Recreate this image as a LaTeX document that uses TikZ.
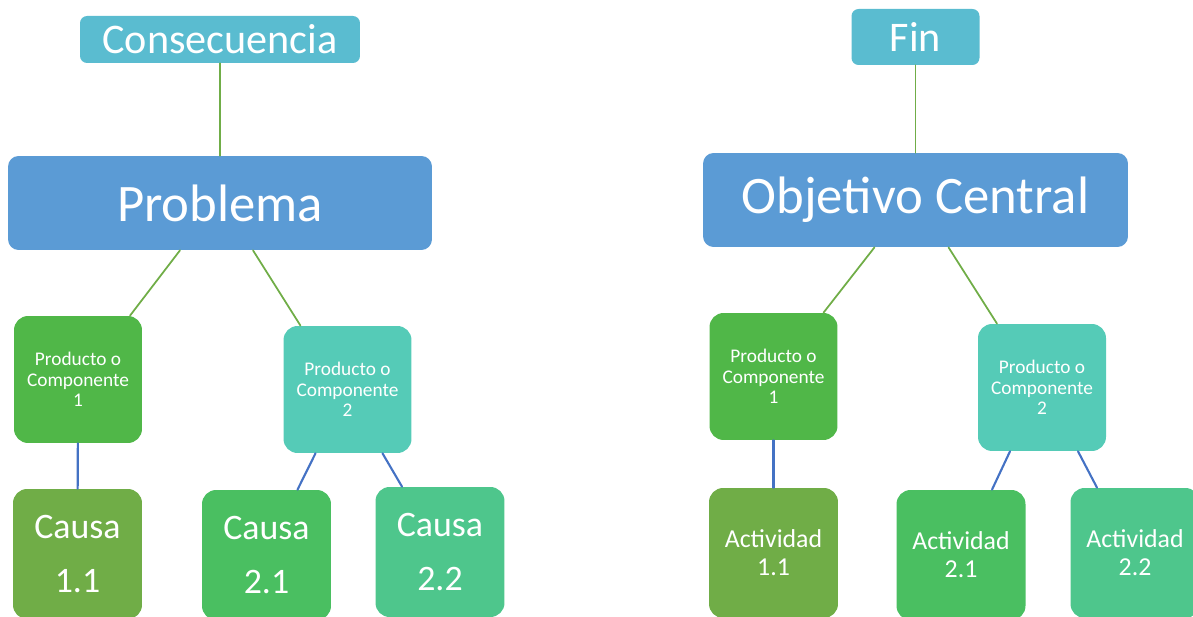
\documentclass[tikz,border=0pt]{standalone}
\usepackage{fontspec}
\setmainfont{Carlito}
\usetikzlibrary{calc}
\definecolor{topcyan}{HTML}{5ABCD0}
\definecolor{mainblue}{HTML}{5B9BD5}
\definecolor{compgreen}{HTML}{50B748}
\definecolor{compteal}{HTML}{55CBB7}
\definecolor{olive}{HTML}{70AD47}
\definecolor{leafgreen}{HTML}{4ABF61}
\definecolor{leafmint}{HTML}{4EC68C}
\definecolor{linkblue}{HTML}{4472C4}
\begin{document}
\begin{tikzpicture}[x=0.02cm,y=-0.02cm,line join=round,line cap=round,
    box/.style={rounded corners=8pt,text=white,inner sep=0pt,align=center},
    topbox/.style={box,fill=topcyan,rounded corners=4pt,minimum width=#1,minimum height=0.94cm,
        font=\fontsize{24}{28}\selectfont},
    mainbox/.style={box,fill=mainblue,rounded corners=6pt,minimum width=8.48cm,minimum height=1.88cm,
        font=\fontsize{30}{34}\selectfont},
    compbox/.style={box,fill=#1,minimum width=2.56cm,minimum height=2.54cm,
        font=\fontsize{11}{11.6}\selectfont},
    leafbox/.style={box,fill=#1,minimum width=2.58cm,minimum height=2.6cm},
    glink/.style={draw=olive,line width=1pt},
    blink/.style={draw=linkblue,line width=1.2pt}]
    \useasboundingbox (0,0) rectangle (1193,617);
    \clip (0,0) rectangle (1193,617);
    % arbol de problemas
    \begin{scope}
        \node[topbox=5.6cm] (cons) at (220,39.5) {Consecuencia};
        \node[mainbox] (prob) at (220,203) {Problema};
        \node[compbox=compgreen] (pc1) at (78,379.5) {Producto o\\Componente\\1};
        \node[compbox=compteal] (pc2) at (347.5,389.5) {Producto o\\Componente\\2};
        \node[leafbox=olive,font=\fontsize{20.4}{31}\selectfont] (c11) at (77.5,554) {Causa\\1.1};
        \node[leafbox=leafgreen,font=\fontsize{20.4}{31}\selectfont] (c21) at (266.5,555) {Causa\\2.1};
        \node[leafbox=leafmint,font=\fontsize{20.4}{31}\selectfont] (c22) at (440,552) {Causa\\2.2};
        \draw[glink] (cons) -- (prob);
        \draw[glink] ($(prob.south)+(-40,0)$) -- ($(pc1.north)+(52,0)$);
        \draw[glink] ($(prob.south)+(33,0)$) -- ($(pc2.north)+(-47,0)$);
        \draw[blink] (pc1) -- (c11);
        \draw[blink] ($(pc2.south)+(-32,0)$) -- ($(c21.north)+(31,0)$);
        \draw[blink] ($(pc2.south)+(35,0)$) -- ($(c22.north)+(-38,0)$);
    \end{scope}
    % arbol de objetivos
    \begin{scope}
        \node[topbox=2.56cm,minimum height=1.12cm] (fin) at (915.5,37) {Fin};
        \node[mainbox,minimum width=8.5cm] (obj) at (915.5,200) {Objetivo Central};
        \node[compbox=compgreen] (pc1r) at (773.5,376.5) {Producto o\\Componente\\1};
        \node[compbox=compteal] (pc2r) at (1042,387.5) {Producto o\\Componente\\2};
        \node[leafbox=olive,font=\fontsize{14.7}{15.9}\selectfont] (a11) at (773.5,553) {Actividad\\1.1};
        \node[leafbox=leafgreen,font=\fontsize{14.7}{15.9}\selectfont] (a21) at (961,555) {Actividad\\2.1};
        \node[leafbox=leafmint,font=\fontsize{14.7}{15.9}\selectfont] (a22) at (1135,553) {Actividad\\2.2};
        \draw[glink] (fin) -- (obj);
        \draw[glink] ($(obj.south)+(-41,0)$) -- ($(pc1r.north)+(50,0)$);
        \draw[glink] ($(obj.south)+(33,0)$) -- ($(pc2r.north)+(-45,0)$);
        \draw[blink] (pc1r) -- (a11);
        \draw[blink] ($(pc2r.south)+(-32,0)$) -- ($(a21.north)+(31,0)$);
        \draw[blink] ($(pc2r.south)+(36,0)$) -- ($(a22.north)+(-38,0)$);
    \end{scope}
\end{tikzpicture}
\end{document}
